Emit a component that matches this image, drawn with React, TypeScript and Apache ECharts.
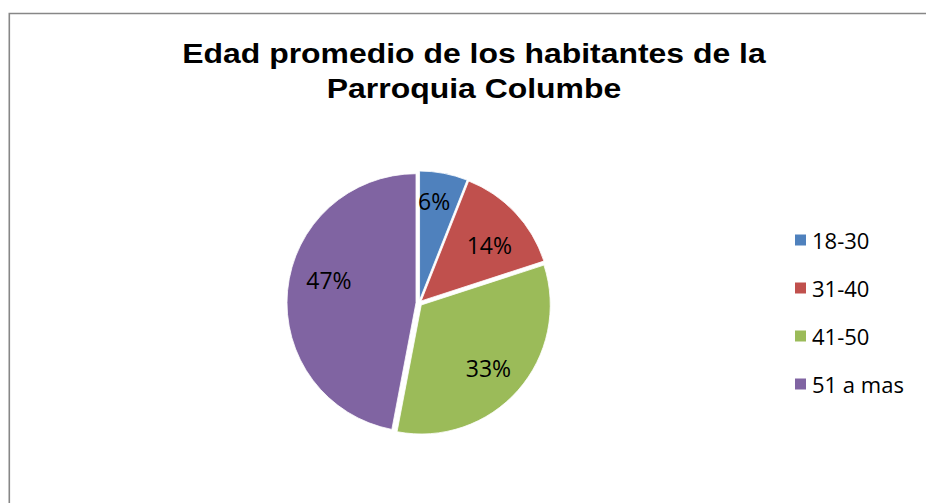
import React, { useEffect, useRef } from "react";
import * as echarts from "echarts";

const titleLines = ["Edad promedio de los habitantes de la", "Parroquia Columbe"];
const categories = ["18-30", "31-40", "41-50", "51 a mas"];
const values = [6, 14, 33, 47];
const colors = ["#4F81BD", "#C0504D", "#9BBB59", "#8064A2"];
// per-label nudges (padding) to mimic the original label placement
const labelPads = [
  [0, 6, 14, 0],
  [16, 0, 0, 0],
  [2, 6, 0, 0],
  [0, 0, 28, 12],
];

export default function App() {
  const ref = useRef<HTMLDivElement>(null);
  useEffect(() => {
    if (!ref.current) return;
    const chart = echarts.init(ref.current, null, { renderer: "svg" });
    const center = [419, 303];
    chart.setOption({
      animation: false,
      backgroundColor: "#ffffff",
      graphic: [
        {
          type: "rect",
          shape: { x: 9.3, y: 13.5, width: 1000, height: 1000 },
          style: { fill: "none", stroke: "#878787", lineWidth: 1.6 },
          silent: true,
        },
        {
          type: "text",
          x: 474,
          y: 36,
          scaleX: 1.14,
          style: {
            text: titleLines.join("\n"),
            font: "bold 28px 'Liberation Sans', Arial, sans-serif",
            lineHeight: 35,
            textAlign: "center",
            textVerticalAlign: "top",
            fill: "#000000",
          },
        },
      ],
      legend: {
        orient: "vertical",
        left: 788,
        top: 223,
        itemWidth: 13,
        itemHeight: 13,
        itemGap: 24,
        icon: "rect",
        data: categories,
        selectedMode: false,
        textStyle: {
          fontFamily: "'Open Sans', sans-serif",
          fontSize: 22,
          lineHeight: 24,
          color: "#000000",
        },
      },
      series: [
        {
          type: "pie",
          center,
          radius: [0, 129],
          startAngle: 90,
          clockwise: true,
          selectedMode: "multiple",
          selectedOffset: 3,
          label: { show: false },
          labelLine: { show: false },
          emphasis: { disabled: true },
          itemStyle: { borderColor: "#ffffff", borderWidth: 0.8 },
          data: categories.map((c, i) => ({
            name: c,
            value: values[i],
            selected: true,
            itemStyle: { color: colors[i] },
            select: { itemStyle: { color: colors[i], borderColor: "#ffffff", borderWidth: 0.8 } },
          })),
        },
        {
          type: "pie",
          center,
          radius: [58, 129],
          startAngle: 90,
          clockwise: true,
          silent: true,
          emphasis: { disabled: true },
          itemStyle: { color: "rgba(0,0,0,0)" },
          labelLine: { show: false },
          label: {
            show: true,
            position: "inside",
            formatter: "{p|{c}%}",
            color: "#000000",
          },
          data: categories.map((c, i) => ({
            name: c,
            value: values[i],
            label: {
              rich: {
                p: {
                  fontFamily: "'Open Sans', sans-serif",
                  fontSize: 23,
                  color: "#000000",
                  padding: labelPads[i],
                },
              },
            },
          })),
        },
      ],
    });
    return () => chart.dispose();
  }, []);
  return (
    <div
      ref={ref}
      style={{ position: "fixed", left: 0, top: 0, width: 926, height: 503 }}
    />
  );
}
